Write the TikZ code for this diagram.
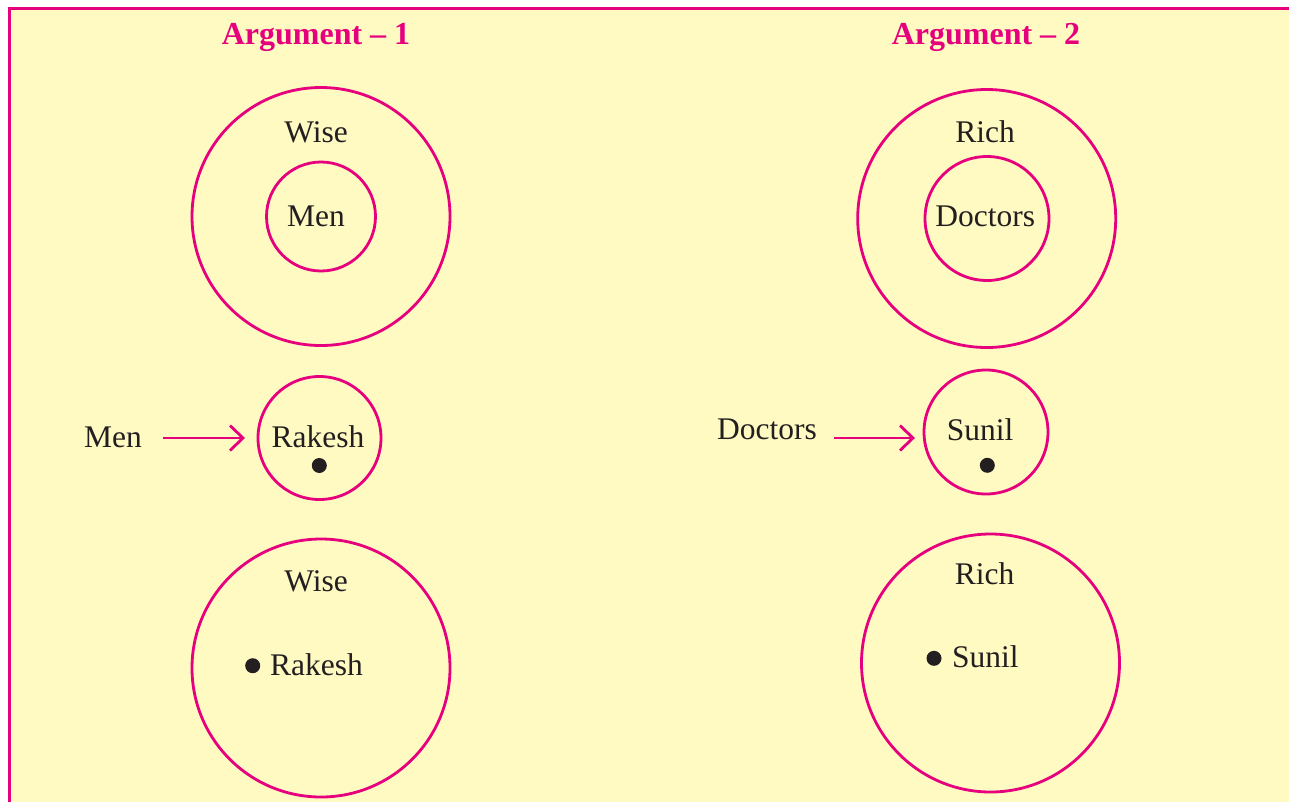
\documentclass[tikz,border=0pt]{standalone}
\usepackage{fontspec}
\setmainfont{Liberation Serif}
\usetikzlibrary{arrows.meta}
\definecolor{pinkc}{HTML}{E6007E}
\definecolor{bgyel}{HTML}{FFF9C2}
\definecolor{txtc}{HTML}{231F20}
\tikzset{
  ring/.style={circle,draw=pinkc,line width=2.8pt,inner sep=0pt,minimum size=#1},
  lbl/.style={anchor=base,inner sep=0pt,text=txtc,font=\fontsize{31.5}{36}\selectfont},
  ttl/.style={anchor=base,inner sep=0pt,text=pinkc,font=\fontsize{32}{36}\selectfont\bfseries},
  dotc/.style={circle,fill=txtc,inner sep=0pt,minimum size=15pt},
  arr/.style={draw=pinkc,line width=2.8pt,-{Straight Barb[length=13pt,width=25pt,line width=2.8pt]}}
}
\begin{document}
\begin{tikzpicture}[x=1pt,y=-1pt]
\useasboundingbox (0,0) rectangle (1289,801);
\fill[white] (0,0) rectangle (1289,801);
\filldraw[fill=bgyel,draw=pinkc,line width=3pt] (9.5,8.5) rectangle (1300,812);
% Argument 1
\node[ttl] (t1) at (316,44) {Argument -- 1};
\node[ring=258pt] (o1) at (321,216.5) {};
\node[ring=109pt] (i1) at (321,216.5) {};
\node[lbl] (w1) at (316,142.7) {Wise};
\node[lbl] (m1) at (316,226.7) {Men};
\node[ring=123pt] (r1) at (319.5,438) {};
\node[lbl] (rk1) at (318,447.3) {Rakesh};
\node[dotc] (d1) at (319.3,465.5) {};
\node[lbl] (ml) at (113,447.3) {Men};
\draw[arr,shorten <=21pt,shorten >=11.6pt] (ml.east |- r1.west) -- (r1.west);
\node[ring=258pt] (b1) at (321,668) {};
\node[lbl] (w2) at (316,591.7) {Wise};
\node[dotc] (d2) at (252.7,665.7) {};
\node[lbl,anchor=base west] (rk2) at (270,675) {Rakesh};
% Argument 2
\node[ttl] (t2) at (986,44) {Argument -- 2};
\node[ring=258pt] (o2) at (986.7,218.5) {};
\node[ring=124pt] (i2) at (987,218.5) {};
\node[lbl] (rc1) at (985,142.7) {Rich};
\node[lbl] (dc1) at (985.3,226.7) {Doctors};
\node[ring=124pt] (r2) at (986,432) {};
\node[lbl] (sn1) at (980,440) {Sunil};
\node[dotc] (d3) at (987.3,465.3) {};
\node[lbl] (dl) at (767,439.3) {Doctors};
\coordinate (a2e) at ([yshift=-6pt]r2.west);
\draw[arr,shorten <=17pt,shorten >=7.6pt] (dl.east |- a2e) -- (a2e);
\node[ring=258pt] (b2) at (990.5,663) {};
\node[lbl] (rc2) at (984.5,584) {Rich};
\node[dotc] (d4) at (934,658.3) {};
\node[lbl,anchor=base west] (sn2) at (952,667.7) {Sunil};
\end{tikzpicture}
\end{document}
